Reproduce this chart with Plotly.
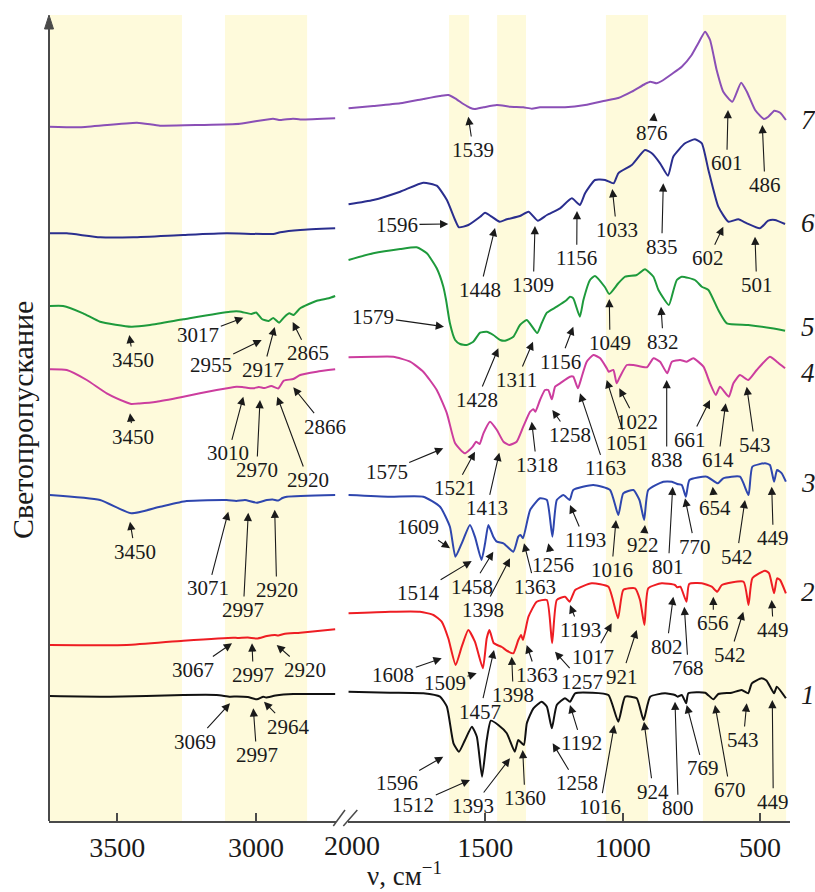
import plotly.graph_objects as go

# ---------------------------------------------------------------------------
# IR transmission spectra, curves 1-7 (offset vertically, arbitrary units)
# "hi" = 3750-2700 cm-1 region, "lo" = 2000-400 cm-1 region
# ---------------------------------------------------------------------------

nu_1_hi = [3743, 3526, 3262, 3142, 3094, 3069, 3030, 2997, 2974, 2964, 2930, 2866, 2715]
t_1_hi = [125, 124.3, 126, 126, 124.3, 124.5, 124, 121.7, 124.3, 123.5, 125.5, 127, 127]
nu_1_lo = [1998, 1847, 1726, 1665, 1640, 1616, 1596, 1574, 1549, 1531, 1512, 1495, 1480,
           1453, 1422, 1393, 1380, 1360, 1349, 1325, 1295, 1276, 1258, 1240, 1210, 1192,
           1173, 1113, 1052, 1016, 991, 949, 924, 900, 846, 810, 800, 785, 769, 761, 700,
           670, 652, 603, 567, 543, 530, 494, 476, 449, 439, 406]
t_1_lo = [129.3, 128.3, 127.7, 124.3, 114.3, 77.7, 69.3, 81, 94.3, 84.3, 44.3, 81, 100.3,
          96, 87.7, 69.3, 81, 76, 97.7, 112.7, 119.3, 114.3, 92.7, 116, 122.7, 119.3,
          127.7, 128.3, 126, 99.3, 124.3, 122.7, 101, 124.3, 127.7, 126, 124.3, 126, 117.7,
          127.7, 128.3, 121.7, 127, 128.3, 131, 127.7, 137.7, 142.7, 140.3, 127.7, 134.3,
          122.7]

nu_2_hi = [3743, 3466, 3262, 3082, 3067, 3030, 2997, 2961, 2932, 2920, 2900, 2841, 2715]
t_2_hi = [176, 176, 180.3, 183.3, 183, 183.5, 182.5, 185, 186, 185.5, 187, 188.3, 191.7]
nu_2_lo = [1998, 1847, 1738, 1689, 1659, 1635, 1608, 1586, 1562, 1538, 1509, 1495, 1485,
           1470, 1457, 1440, 1420, 1398, 1380, 1370, 1363, 1343, 1313, 1276, 1257, 1240,
           1210, 1193, 1173, 1113, 1052, 1017, 998, 955, 937, 921, 907, 858, 810, 802, 790,
           768, 758, 712, 676, 656, 639, 560, 542, 528, 482, 467, 449, 438, 427, 406]
t_2_lo = [207.7, 209.3, 209.3, 206, 199.3, 182.7, 156, 174.3, 191, 179.3, 152.7, 182.7, 191,
          178, 176, 174, 170, 167.7, 181, 186, 181, 204.3, 219.3, 221, 177.7, 221,
          224.3, 219.3, 231, 237.7, 234.3, 202.7, 231, 232.7, 221, 196, 232.7, 237.7, 236,
          233.7, 234.3, 219.3, 237, 237.7, 234.3, 229.3, 236, 239.3, 216, 242.7, 250.3,
          247.7, 227.7, 242.7, 241, 227.7]

nu_3_hi = [3743, 3562, 3450, 3346, 3250, 3106, 3071, 3040, 2997, 2961, 2940, 2920, 2905,
           2889, 2715]
t_3_hi = [326, 321, 307.7, 314.3, 320, 321, 320, 321, 318.3, 321, 321.5, 320.5, 323,
          324.3, 326]
nu_3_lo = [1998, 1847, 1726, 1665, 1629, 1609, 1586, 1556, 1538, 1514, 1501, 1489, 1471,
           1458, 1434, 1398, 1380, 1372, 1363, 1337, 1301, 1276, 1256, 1240, 1216, 1193,
           1180, 1107, 1046, 1016, 998, 961, 939, 922, 907, 852, 821, 801, 785, 770, 757,
           694, 654, 634, 573, 542, 528, 482, 464, 449, 438, 421, 406]
t_3_lo = [326, 324.3, 324.3, 314.3, 294.3, 264.3, 277.7, 296, 284.3, 261, 277.7, 296, 284.3,
          279.3, 277.7, 269.3, 284.3, 286, 282.7, 311, 322.7, 321, 284.3, 321, 326, 321,
          331, 336, 331, 306, 327.7, 331, 321, 301, 331, 339.3, 339.3, 337, 336, 324.3, 341,
          344.3, 337.7, 342.7, 344.3, 326, 354.3, 357.7, 356, 339.3, 351, 347.7, 339.3]

nu_4_hi = [3743, 3682, 3610, 3538, 3466, 3450, 3420, 3358, 3262, 3142, 3070, 3050, 3010,
           2990, 2970, 2945, 2920, 2900, 2866, 2841, 2781, 2715]
t_4_hi = [451.7, 451, 441, 427.7, 418.5, 417, 417.5, 419.3, 424.3, 431, 434.3, 434, 432.7,
          434, 433, 435, 432.5, 440.3, 442, 446, 449.3, 451.7]
nu_4_lo = [1998, 1908, 1835, 1774, 1726, 1677, 1640, 1610, 1575, 1546, 1534, 1521, 1507,
           1483, 1458, 1434, 1413, 1386, 1362, 1337, 1325, 1318, 1301, 1283, 1271, 1258,
           1246, 1228, 1192, 1180, 1163, 1149, 1131, 1107, 1082, 1058, 1051, 1034, 1022,
           1010, 985, 961, 912, 888, 864, 838, 821, 791, 767, 743, 706, 682, 661, 646, 614,
           597, 573, 543, 512, 464, 439, 409]
t_4_lo = [463.7, 464.3, 464.3, 459.3, 449.3, 431, 407.7, 377.7, 367.7, 374.3, 379.3, 377,
          387.7, 399.3, 391, 379.3, 376, 379.3, 394.3, 409.3, 411.7, 409.3, 421, 431, 431,
          421.7, 434.3, 437.7, 444.3, 444.3, 432.7, 444.3, 459.3, 466, 462.7, 452.7, 449.3,
          451, 437.7, 444.3, 456, 456, 453.7, 462.7, 459.3, 447.7, 459.3, 461, 459.3, 462.7,
          454.3, 437.7, 426, 434.3, 424.3, 437.7, 446, 441, 451, 464.3, 459.3, 452.7]

nu_5_hi = [3743, 3695, 3623, 3562, 3450, 3382, 3262, 3094, 3060, 3017, 3000, 2979, 2955,
           2938, 2917, 2897, 2880, 2865, 2841, 2781, 2738, 2715]
t_5_hi = [515, 515, 507.7, 499.3, 494.3, 496, 501.7, 509.3, 509.5, 507, 508.5, 502, 500,
          503, 498.3, 504.3, 507.7, 506, 512.7, 520.3, 522.7, 525]
nu_5_lo = [1998, 1908, 1810, 1750, 1713, 1677, 1653, 1643, 1629, 1610, 1592, 1568, 1544,
           1519, 1495, 1471, 1446, 1428, 1398, 1374, 1349, 1311, 1295, 1276, 1240, 1204,
           1192, 1180, 1156, 1143, 1119, 1101, 1065, 1049, 1016, 991, 949, 919, 888, 870,
           832, 815, 803, 785, 737, 712, 688, 652, 621, 543, 457, 409]
t_5_lo = [561, 567.7, 572, 573.7, 567.7, 552.7, 534.3, 521, 497.7, 481, 477, 476, 479.3,
          488.3, 489.3, 486, 481, 480.3, 484.3, 496, 501, 488, 497.7, 508.3, 514.3, 521,
          524.3, 522.7, 504.3, 521, 541, 545, 534, 527, 537.7, 544.3, 546, 551.7, 544.3, 531,
          516, 531, 541, 544.3, 541, 534.3, 531, 511, 497.7, 496, 492.7, 490.3]

nu_6_hi = [3746, 3682, 3562, 3442, 3262, 3106, 2938, 2913, 2841, 2715]
t_6_hi = [587.7, 587.7, 583.7, 583.7, 586, 587.7, 587, 588.7, 591, 592.7]
nu_6_lo = [1998, 1908, 1810, 1726, 1677, 1640, 1610, 1596, 1562, 1519, 1501, 1477, 1448,
           1422, 1374, 1343, 1309, 1276, 1228, 1185, 1156, 1137, 1101, 1064, 1033, 1016,
           967, 919, 894, 864, 835, 816, 773, 737, 712, 688, 652, 615, 579, 548, 501, 470,
           446, 409]
t_6_lo = [616.7, 621, 629.3, 638.3, 635.3, 621, 601, 593.7, 596, 604.3, 608.3, 604.3, 599.3,
          601.7, 605, 609.3, 600.3, 606, 612.7, 622.7, 616, 627.7, 641, 641, 637.7, 647.7,
          656, 671, 667.7, 657.7, 645.3, 664.3, 677.7, 681.7, 677.7, 651, 614.3, 599.3,
          601.7, 597.7, 592.7, 600.3, 601, 597]

nu_7_hi = [3746, 3634, 3429, 3346, 3202, 3058, 2939, 2913, 2867, 2841, 2715]
t_7_hi = [694.3, 693.7, 698.3, 695.3, 696, 697.3, 702.3, 701, 702.3, 701.5, 702.7]
nu_7_lo = [1998, 1908, 1810, 1726, 1665, 1635, 1610, 1580, 1556, 1539, 1507, 1458, 1410,
           1362, 1331, 1301, 1210, 1137, 1064, 1016, 967, 919, 900, 876, 858, 821, 785, 749,
           725, 700, 682, 658, 634, 601, 569, 548, 518, 486, 470, 448, 427, 406]
t_7_lo = [712.7, 715, 717.7, 722, 725, 726, 722.7, 717, 713.3, 712, 713.7, 716, 714.3,
          713.7, 712.3, 713.7, 713.7, 716, 720.3, 723, 729.3, 737, 739.3, 737.7, 740, 747,
          754.3, 766, 777.7, 789.3, 781, 751, 729.3, 719.3, 738.3, 729.3, 711, 702, 704.3,
          710.3, 708.3, 701]

curve_names = ["1", "2", "3", "4", "5", "6", "7"]
curves_hi = [(nu_1_hi, t_1_hi), (nu_2_hi, t_2_hi), (nu_3_hi, t_3_hi), (nu_4_hi, t_4_hi),
             (nu_5_hi, t_5_hi), (nu_6_hi, t_6_hi), (nu_7_hi, t_7_hi)]
curves_lo = [(nu_1_lo, t_1_lo), (nu_2_lo, t_2_lo), (nu_3_lo, t_3_lo), (nu_4_lo, t_4_lo),
             (nu_5_lo, t_5_lo), (nu_6_lo, t_6_lo), (nu_7_lo, t_7_lo)]

# highlighted wavenumber bands (cm-1)
bands_hi = [(3746, 3267), (3112, 2816)]
bands_lo = [(1632, 1559), (1457, 1352), (1061, 908), (708, 405)]

# axis ticks
ticks_hi = [3500, 3000]
ticks_lo = [1500, 1000, 500]

# peak labels: (text, arrow tip x, tip y, label x, label y) in page pixels
peak_labels = [
    ("3450", 129.3, 335, 133.3, 360), ("3017", 243.3, 317.7, 198.3, 335),
    ("2955", 261.7, 340, 210.7, 365), ("2917", 274.7, 327, 263.3, 370),
    ("2865", 292.7, 322, 308.3, 353.3),
    ("3450", 130, 413.3, 133.3, 436.7), ("3010", 243.3, 396.7, 228.3, 453.3),
    ("2970", 260, 400, 256.7, 470), ("2920", 277.3, 396.7, 308.3, 480),
    ("2866", 293.3, 387.3, 325, 426.7),
    ("3450", 130, 521.7, 135, 551.7), ("3071", 228.3, 511.7, 208.3, 588.3),
    ("2997", 248.3, 512.7, 243.3, 610), ("2920", 274.7, 509.7, 276.7, 590),
    ("3067", 232, 643.3, 193.3, 670), ("2997", 252, 643.3, 253.3, 675),
    ("2920", 276.7, 645, 305, 670),
    ("3069", 230, 703.3, 195, 741.7), ("2997", 253.3, 708.3, 256.7, 755),
    ("2964", 264, 701.7, 288.3, 726.7),
    ("1539", 468.3, 116.7, 473.3, 150), ("876", 654.3, 112.7, 652, 133.3),
    ("601", 728, 110, 726.7, 163.3), ("486", 762.3, 125, 765, 185),
    ("1596", 448.3, 224, 397, 224.7), ("1448", 495, 228, 480, 290),
    ("1309", 535, 226, 533.3, 285), ("1156", 577, 211, 576.7, 258.3),
    ("1033", 612.3, 189, 616.7, 230), ("835", 663.3, 183.3, 661.7, 246.7),
    ("602", 723.3, 226.7, 708.3, 258.3), ("501", 755, 236.7, 756.7, 285),
    ("1579", 444, 326.7, 373.3, 316.7), ("1428", 498.3, 348.3, 476.7, 400),
    ("1311", 533, 341.7, 516.7, 380), ("1156", 573.3, 326.7, 560, 361.7),
    ("1049", 609.3, 299, 610, 343.3), ("832", 661, 306.7, 663.3, 341.7),
    ("1575", 443.3, 448.3, 386.7, 471.7), ("1521", 475, 451.7, 455, 488.3),
    ("1413", 499.3, 452.7, 486.7, 508.3), ("1318", 531.7, 421.7, 536.7, 465),
    ("1258", 552.3, 410, 570, 435), ("1163", 580, 393.3, 605, 468.3),
    ("1022", 619.3, 388.3, 636.7, 421.7), ("1051", 606.7, 380, 626.7, 443.3),
    ("838", 666.7, 380, 666.7, 460), ("661", 710, 400, 690, 440),
    ("614", 725.7, 403.3, 718.3, 460), ("543", 746.7, 386.7, 755, 445),
    ("1609", 450, 548.3, 418.3, 526.7), ("1514", 471.7, 561, 418.3, 593.3),
    ("1458", 493.3, 551.7, 471.7, 586.7), ("1398", 510, 558.3, 483.3, 610),
    ("1363", 524, 543.3, 535, 586.7), ("1256", 548.3, 543.3, 553.3, 565),
    ("1193", 570, 505, 585, 540), ("1016", 616, 520, 611.7, 570),
    ("922", 645, 525, 643.3, 545), ("801", 672.7, 486.7, 668.3, 566.7),
    ("770", 685, 498.3, 695, 546.7), ("654", 712.7, 486.7, 715, 508.3),
    ("542", 745, 500, 736.7, 556.7), ("449", 771.7, 486.7, 773.3, 538.3),
    ("1608", 441.7, 658.3, 393.3, 675), ("1509", 476.7, 673.3, 445, 683.3),
    ("1457", 494, 650, 480, 711.7), ("1398", 511.7, 656.7, 513.3, 695),
    ("1363", 526.7, 645, 536.7, 675), ("1257", 555, 651.7, 581.7, 681.7),
    ("1193", 570, 605, 580, 630), ("1017", 611.7, 623.3, 593.3, 656.7),
    ("921", 636.7, 630, 621.7, 676.7), ("802", 673.3, 596.7, 666.7, 646.7),
    ("768", 684.3, 606.7, 688.3, 668.3), ("656", 713.3, 596.7, 713.3, 623.3),
    ("542", 743.3, 611.7, 730, 655), ("449", 771.7, 600, 773.3, 630),
    ("1596", 443.3, 756.7, 396.7, 783.3), ("1512", 470, 780, 413.3, 805),
    ("1393", 510, 758.3, 473.3, 806), ("1360", 522.7, 750, 525, 798.3),
    ("1258", 552.7, 743.3, 576.7, 783.3), ("1192", 570, 705, 581.7, 743.3),
    ("1016", 614.3, 725, 600, 806.7), ("924", 644, 721.7, 653.3, 791.7),
    ("800", 675, 701.7, 678.3, 808.3), ("769", 686.7, 705, 703.3, 768.3),
    ("670", 715, 705, 730, 790), ("543", 746.7, 703.3, 743.3, 740),
    ("449", 772.3, 700, 773.3, 801.7),
]

# curve number labels: y position in page pixels
curve_label_y = [695, 591.7, 483.3, 373.3, 326.7, 223.3, 120]

# ---------------------------------------------------------------------------
# styling / page geometry
# ---------------------------------------------------------------------------
W, H = 815, 892
ML, MR, MT, MB = 49, 25, 15, 71
PW, PH = W - ML - MR, H - MT - MB
SERIF = "Liberation Serif"
AX = "#4a4a4a"
TXT = "#1a1a1a"
BAND = "#FEFADB"
COLORS = ["#111111", "#EE1D23", "#2E46AE", "#CC3D9E", "#1E9A3C", "#2A2E8E", "#8A4FB6"]


def px_x(px):
    return (px - ML) / PW


def px_y(py):
    return (H - MB - py) / PH


D1_END = px_x(336)
D2_START = px_x(348)

fig = go.Figure()

for i, name in enumerate(curve_names):
    for (nus, ts), xa, ya in ((curves_hi[i], "x", "y"), (curves_lo[i], "x2", "y2")):
        fig.add_trace(go.Scatter(
            x=nus, y=ts, xaxis=xa, yaxis=ya, mode="lines", name=name,
            line=dict(color=COLORS[i], width=2, shape="spline", smoothing=0.5),
            hoverinfo="skip", showlegend=False))

shapes = []
for a, b in bands_hi:
    shapes.append(dict(type="rect", xref="x", yref="paper", x0=a, x1=b, y0=0, y1=1,
                       fillcolor=BAND, line=dict(width=0), layer="below"))
for a, b in bands_lo:
    shapes.append(dict(type="rect", xref="x2", yref="paper", x0=a, x1=b, y0=0, y1=1,
                       fillcolor=BAND, line=dict(width=0), layer="below"))

# vertical axis with arrowhead
shapes.append(dict(type="line", xref="paper", yref="paper", x0=0, x1=0,
                   y0=0, y1=px_y(26), line=dict(color=AX, width=2)))
shapes.append(dict(type="path", xref="paper", yref="paper",
                   path=f"M {px_x(49)},{px_y(15)} L {px_x(44.5)},{px_y(29)} "
                        f"L {px_x(53.5)},{px_y(29)} Z",
                   fillcolor=AX, line=dict(color=AX, width=1)))
# axis break marks
for x0, x1 in ((333.3, 345), (343.3, 357.3)):
    shapes.append(dict(type="line", xref="paper", yref="paper",
                       x0=px_x(x0), y0=px_y(826), x1=px_x(x1), y1=px_y(810),
                       line=dict(color=AX, width=1.5)))

annotations = []
for text, tx, ty, lx, ly in peak_labels:
    annotations.append(dict(
        xref="paper", yref="paper", x=px_x(tx), y=px_y(ty),
        ax=lx - tx, ay=ly - ty, text=text, showarrow=True,
        arrowhead=2, arrowsize=1.5, arrowwidth=1.1, arrowcolor=TXT,
        font=dict(family=SERIF, size=21, color=TXT)))


def free_text(px, py, text, size, angle=0):
    return dict(xref="paper", yref="paper", x=px_x(px), y=px_y(py), showarrow=False,
                xanchor="center", yanchor="middle", text=text, textangle=angle,
                font=dict(family=SERIF, size=size, color=TXT))


for name, ly in zip(curve_names, curve_label_y):
    annotations.append(free_text(808, ly, f"<i>{name}</i>", 27))

annotations.append(free_text(352, 845, "2000", 28))
annotations.append(free_text(404, 874, "ν, см<sup>−1</sup>", 27))
annotations.append(free_text(22, 420, "Светопропускание", 30, angle=-90))

axis_common = dict(showline=True, linecolor=AX, linewidth=2, ticks="inside", ticklen=8,
                   tickwidth=2, tickcolor=AX, showgrid=False, zeroline=False,
                   tickfont=dict(family=SERIF, size=28, color=TXT))

fig.update_layout(
    width=W, height=H, autosize=False,
    margin=dict(l=ML, r=MR, t=MT, b=MB),
    paper_bgcolor="white", plot_bgcolor="rgba(0,0,0,0)",
    font=dict(family=SERIF, color=TXT),
    xaxis=dict(domain=[0, D1_END], range=[3746, 2712], anchor="y",
               tickvals=ticks_hi, **axis_common),
    xaxis2=dict(domain=[D2_START, 1], range=[2000, 391], anchor="y2",
                tickvals=ticks_lo, **axis_common),
    yaxis=dict(domain=[0, 1], range=[0, 806], visible=False, fixedrange=True),
    yaxis2=dict(domain=[0, 1], range=[0, 806], visible=False, anchor="x2"),
    shapes=shapes, annotations=annotations, showlegend=False, hovermode=False,
)

fig.write_html("out.html", config={"displayModeBar": False})
